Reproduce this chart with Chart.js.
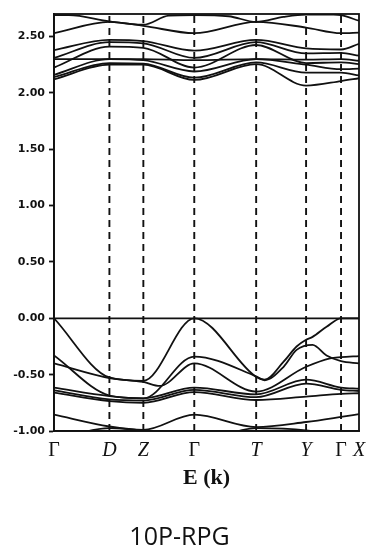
<!DOCTYPE html>
<html>
<head>
<meta charset="utf-8">
<script src="https://cdn.jsdelivr.net/npm/chart.js@4.4.1/dist/chart.umd.min.js"></script>
<style>
  html, body { margin: 0; padding: 0; background: #ffffff; }
  #wrap { width: 369px; height: 550px; }
</style>
</head>
<body>
<div id="wrap"><canvas id="c" width="369" height="550"></canvas></div>
<script>
// High-symmetry path
const kLabels = ['Γ', 'D', 'Z', 'Γ', 'T', 'Y', 'Γ', 'X'];
const kPos = [0, 0.555, 0.895, 1.405, 2.025, 2.525, 2.875, 3.055];

// Energy axis ticks
const yTicks = [-1.0, -0.5, 0.0, 0.5, 1.0, 1.5, 2.0, 2.5];
const yRange = [-1.0, 2.70];

// Conduction bands: [k, E]
const bandC9 = [[0,2.69],[0.15,2.69],[0.555,2.635],[0.895,2.605],[1.15,2.685],[1.405,2.69],[1.75,2.68],[2.025,2.63],[2.30,2.675],[2.525,2.695],[2.80,2.695],[2.875,2.69],[3.055,2.64]];
const bandC8 = [[0,2.53],[0.555,2.63],[0.895,2.595],[1.405,2.53],[2.025,2.63],[2.525,2.58],[2.875,2.53],[3.055,2.535]];
const bandC7 = [[0,2.38],[0.555,2.47],[0.895,2.46],[1.405,2.375],[2.025,2.47],[2.525,2.395],[2.875,2.385],[3.055,2.435]];
const bandC6 = [[0,2.31],[0.555,2.45],[0.895,2.44],[1.405,2.31],[2.025,2.45],[2.525,2.35],[2.875,2.355],[3.055,2.33]];
const bandC5 = [[0,2.225],[0.555,2.41],[0.895,2.40],[1.405,2.225],[2.025,2.425],[2.525,2.265],[2.875,2.27],[3.055,2.255]];
const bandC4 = [[0,2.30],[0.555,2.30],[0.895,2.30],[1.405,2.29],[2.025,2.30],[2.525,2.295],[2.875,2.30],[3.055,2.285]];
const bandC3 = [[0,2.16],[0.555,2.30],[0.895,2.29],[1.405,2.19],[2.025,2.30],[2.525,2.25],[2.875,2.21],[3.055,2.215]];
const bandC2 = [[0,2.14],[0.555,2.265],[0.895,2.26],[1.405,2.135],[2.025,2.27],[2.525,2.18],[2.875,2.18],[3.055,2.155]];
const bandC1 = [[0,2.12],[0.555,2.25],[0.895,2.25],[1.405,2.115],[2.025,2.255],[2.525,2.065],[2.875,2.105],[3.055,2.13]];

// Valence bands: [k, E]
const bandV1 = [[0,0.0],[0.555,-0.525],[0.895,-0.555],[1.405,0.0],[2.025,-0.52],[2.11,-0.545],[2.30,-0.385],[2.43,-0.25],[2.525,-0.19],[2.59,-0.165],[2.73,-0.075],[2.875,0.0],[3.055,0.0]];
const bandV2 = [[0,-0.33],[0.555,-0.685],[0.895,-0.71],[1.405,-0.34],[2.025,-0.515],[2.11,-0.55],[2.30,-0.43],[2.43,-0.28],[2.59,-0.235],[2.73,-0.33],[2.875,-0.38],[3.055,-0.40]];
const bandV3 = [[0,-0.40],[0.555,-0.53],[0.895,-0.565],[1.06,-0.60],[1.405,-0.40],[2.025,-0.65],[2.525,-0.43],[2.765,-0.355],[2.875,-0.345],[3.055,-0.335]];
const bandV4 = [[0,-0.615],[0.555,-0.69],[0.895,-0.71],[1.405,-0.615],[2.025,-0.675],[2.525,-0.545],[2.875,-0.615],[3.055,-0.625]];
const bandV5 = [[0,-0.64],[0.555,-0.72],[0.895,-0.73],[1.405,-0.635],[2.025,-0.70],[2.525,-0.58],[2.875,-0.635],[3.055,-0.645]];
const bandV6 = [[0,-0.66],[0.555,-0.735],[0.895,-0.75],[1.405,-0.655],[2.025,-0.725],[2.525,-0.695],[2.875,-0.67],[3.055,-0.665]];
const bandV7 = [[0,-0.855],[0.555,-0.96],[0.895,-0.99],[1.405,-0.855],[2.025,-0.965],[2.525,-0.92],[2.875,-0.875],[3.055,-0.85]];
const bandV8 = [[0,-1.08],[0.555,-0.975],[0.895,-1.0],[1.405,-1.1],[2.025,-0.975],[2.525,-0.995],[2.875,-1.05],[3.055,-1.08]];

const fermiLevel = 0.0;

const bands = [bandC9, bandC8, bandC7, bandC6, bandC5, bandC4, bandC3, bandC2, bandC1,
               bandV1, bandV2, bandV3, bandV4, bandV5, bandV6, bandV7, bandV8];

const toPts = arr => arr.map(p => ({ x: p[0], y: p[1] }));

const datasets = [];
// dashed high-symmetry lines (interior points)
kPos.slice(1, -1).forEach(k => {
  datasets.push({
    data: [{ x: k, y: yRange[0] }, { x: k, y: yRange[1] }],
    borderColor: '#111111', borderWidth: 1.9, borderDash: [7, 5],
    pointRadius: 0, tension: 0, fill: false
  });
});
// Fermi level
datasets.push({
  data: [{ x: kPos[0], y: fermiLevel }, { x: kPos[kPos.length - 1], y: fermiLevel }],
  borderColor: '#111111', borderWidth: 1.8, pointRadius: 0, tension: 0, fill: false
});
bands.forEach(b => {
  datasets.push({
    data: toPts(b),
    borderColor: '#111111', borderWidth: 1.8, pointRadius: 0,
    cubicInterpolationMode: 'monotone', fill: false
  });
});

const framePlugin = {
  id: 'frame',
  afterDraw(chart) {
    const { ctx, chartArea: a } = chart;
    ctx.save();
    ctx.strokeStyle = '#111111';
    ctx.lineWidth = 1.8;
    ctx.strokeRect(a.left, a.top, a.right - a.left, a.bottom - a.top);
    ctx.restore();
  }
};

new Chart(document.getElementById('c'), {
  type: 'line',
  data: { datasets },
  options: {
    responsive: false,
    devicePixelRatio: 1,
    animation: false,
    layout: { padding: { top: 14, right: 10, left: 0, bottom: 0 } },
    plugins: {
      legend: { display: false },
      tooltip: { enabled: false },
      title: {
        display: true, text: '10P-RPG', position: 'bottom', color: '#111111',
        font: { family: 'Open Sans', size: 25, weight: 'normal', lineHeight: 1 },
        padding: { top: 33, bottom: 0 }
      }
    },
    scales: {
      x: {
        type: 'linear', min: kPos[0], max: kPos[kPos.length - 1],
        afterBuildTicks: s => { s.ticks = kPos.map(v => ({ value: v })); },
        afterFit: s => { s.height = 61; s.paddingLeft = 0; s.paddingRight = 0; },
        grid: { display: false, drawTicks: false },
        border: { display: true, color: '#111111', width: 1.8 },
        ticks: {
          autoSkip: false, maxRotation: 0, padding: 8, color: '#111111',
          callback: (v, i) => kLabels[i],
          font: ctx => ({ family: 'Liberation Serif', size: 20,
                          style: kLabels[ctx.index] === 'Γ' ? 'normal' : 'italic' })
        },
        title: {
          display: true, text: 'E (k)', color: '#111111',
          font: { family: 'Liberation Serif', size: 22, weight: 'bold' },
          padding: { top: 0, bottom: 0 }
        }
      },
      y: {
        type: 'linear', min: yRange[0], max: yRange[1],
        afterBuildTicks: s => { s.ticks = yTicks.map(v => ({ value: v })); },
        afterFit: s => { s.width = 54; s.paddingTop = 0; s.paddingBottom = 0; },
        grid: { drawOnChartArea: false, drawTicks: true, tickLength: 5, color: '#111111', tickWidth: 1.8 },
        border: { display: true, color: '#111111', width: 1.8 },
        ticks: {
          padding: 4, color: '#111111',
          callback: v => Number(v).toFixed(2),
          font: { family: 'DejaVu Sans', size: 11, weight: 'bold' }
        }
      }
    }
  },
  plugins: [framePlugin]
});
</script>
</body>
</html>
